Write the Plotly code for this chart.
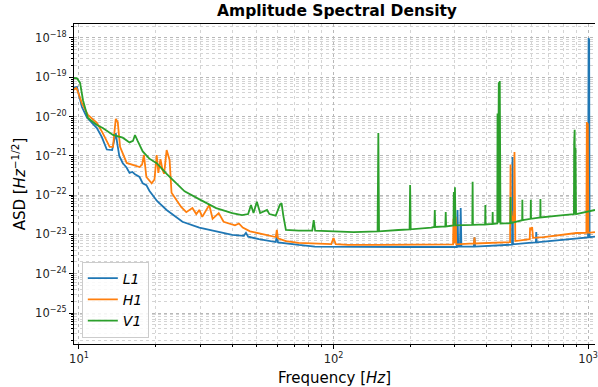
import numpy as np
import plotly.graph_objects as go

# ---------------- data ----------------
l1_freq = [9.56, 9.82, 10.27, 10.75, 11.76, 12.3, 12.86, 13.5, 13.75, 13.95, 14.15, 14.4,
           14.85, 15.4, 15.8, 16.2, 16.6, 17.3, 17.8, 18.4, 18.9, 20.3, 22.1, 25.5, 29.7,
           34.6, 40, 44.4, 45.3, 46.2, 50.9, 59.3, 59.9, 60.5, 62.7, 73, 84.5, 114, 150,
           200, 305, 307, 309, 314, 316, 318, 356, 358, 360, 496, 503, 505, 507, 600, 624,
           626, 628, 670, 900, 1000, 1005, 1010, 1014, 1065]
l1_asd = [5.4e-20, 5.7e-20, 1.75e-20, 9.5e-21, 5.1e-21, 3.0e-21, 1.45e-21, 1.4e-21, 2.5e-21,
          3.8e-21, 2.0e-21, 1.0e-21, 6.6e-22, 5.0e-22, 3.7e-22, 3.9e-22, 3.4e-22, 2.9e-22,
          2.0e-22, 1.8e-22, 1.3e-22, 7.0e-23, 4.2e-23, 2.1e-23, 1.5e-23, 1.2e-23, 9.7e-24,
          9.2e-24, 1.1e-23, 8.8e-24, 7.6e-24, 6.4e-24, 9.5e-24, 6.3e-24, 6.1e-24, 5.4e-24,
          4.9e-24, 4.8e-24, 4.8e-24, 4.8e-24, 4.8e-24, 4.2e-23, 4.9e-24, 4.9e-24, 4.7e-23,
          4.9e-24, 4.9e-24, 8.5e-24, 4.9e-24, 5.4e-24, 5.5e-24, 9.3e-22, 5.6e-24, 6.2e-24,
          6.3e-24, 1.15e-23, 6.3e-24, 6.6e-24, 8.1e-24, 8.4e-24, 1.0e-18, 9.0e-19, 8.5e-24,
          8.8e-24]

h1_freq = [9.56, 9.75, 9.82, 10.27, 10.84, 11.76, 12.4, 13.2, 13.6, 13.95, 14.2, 14.5, 15.4,
           17.3, 17.7, 18.0, 18.4, 19.3, 19.8, 20.2, 20.5, 20.9, 21.3, 21.6, 22.1, 22.7,
           23.1, 25.2, 26.4, 27.9, 28.9, 29.7, 30.5, 32.5, 33.5, 35.4, 37, 41, 42.5, 44, 47,
           55, 59.3, 59.9, 60.5, 65, 73, 98, 100, 102, 114, 150, 200, 295, 296, 297.5, 299,
           300.5, 302, 303.5, 356, 358, 360, 480, 494, 496, 497.5, 500, 503, 506, 509, 512,
           514, 516, 518, 590, 592, 597, 603, 608, 670, 900, 985, 989, 994, 998, 1003, 1065]
h1_asd = [4.8e-20, 5.4e-20, 5.0e-20, 2.2e-20, 1.1e-20, 6.9e-21, 3.8e-21, 1.7e-21, 1.7e-21,
          8.7e-21, 7.3e-21, 1.7e-21, 6.6e-22, 5.2e-22, 6.0e-22, 1.05e-21, 2.9e-22, 2.0e-22,
          2.5e-22, 1.05e-21, 3.7e-22, 8.3e-22, 4.4e-22, 3.5e-22, 1.4e-21, 7.9e-22, 1.15e-22,
          5.0e-23, 3.7e-23, 4.7e-23, 3.3e-23, 4.2e-23, 2.8e-23, 5.6e-23, 2.5e-23, 3.5e-23,
          2.1e-23, 1.7e-23, 1.9e-23, 1.5e-23, 1.2e-23, 9.5e-24, 8.6e-24, 1.3e-23, 8.0e-24,
          6.8e-24, 6.1e-24, 5.7e-24, 8.1e-24, 5.7e-24, 5.4e-24, 5.4e-24, 5.4e-24, 5.6e-24,
          2.5e-23, 6.0e-24, 3.0e-23, 6.0e-24, 2.8e-23, 5.6e-24, 5.9e-24, 8.5e-24, 5.9e-24,
          6.2e-24, 6.4e-24, 6.0e-22, 2.5e-23, 4.0e-23, 2.2e-23, 3.0e-23, 2.0e-23, 2.8e-23,
          1.26e-21, 2.5e-23, 6.8e-24, 7.6e-24, 1.5e-23, 1.3e-23, 1.55e-23, 8.2e-24, 8.6e-24,
          1.09e-23, 1.1e-23, 7.3e-21, 1.1e-23, 6.8e-21, 1.1e-23, 1.15e-23]

v1_freq = [9.56, 9.82, 10.1, 10.37, 10.84, 11.76, 12.4, 13.6, 14.85, 15.8, 16.3, 16.6, 17.0,
           17.8, 18.9, 20.2, 22.2, 26.0, 30, 34.6, 40, 43.7, 46.2, 47.4, 48.5, 50, 51.5,
           54.8, 56, 59.3, 61.5, 62.5, 63.5, 65, 73, 82.5, 83.6, 84.7, 120, 149, 150, 151,
           180, 199, 200, 201, 242, 249, 250, 251, 275, 276, 277, 296, 297, 299, 300, 301.5,
           351, 352, 353, 394, 395, 396, 421, 422, 423, 440, 441, 443, 446, 448, 450, 453,
           495, 496, 497, 551, 552, 553, 595, 596, 597, 649, 650, 651, 800, 880, 882, 886,
           890, 893, 897, 1000, 1065]
v1_asd = [9.6e-20, 9.4e-20, 7.2e-20, 2.6e-20, 9.2e-21, 6.1e-21, 5.1e-21, 3.4e-21, 2.9e-21,
          2.2e-21, 2.4e-21, 3.4e-21, 2.4e-21, 1.3e-21, 8.5e-22, 6.5e-22, 3.4e-22, 1.25e-22,
          7.6e-23, 4.7e-23, 3.5e-23, 3.1e-23, 3.3e-23, 5.6e-23, 3.5e-23, 6.8e-23, 3.5e-23,
          4.2e-23, 3.3e-23, 3.0e-23, 5.6e-23, 6.3e-23, 3.0e-23, 1.3e-23, 1.25e-23, 1.25e-23,
          2.3e-23, 1.25e-23, 1.15e-23, 1.2e-23, 3.8e-21, 1.2e-23, 1.3e-23, 1.35e-23, 1.8e-22,
          1.35e-23, 1.5e-23, 1.55e-23, 4.2e-23, 1.55e-23, 1.6e-23, 3.7e-23, 1.6e-23, 1.7e-23,
          1.2e-22, 1.7e-23, 1.6e-22, 1.7e-23, 1.75e-23, 2.2e-22, 1.75e-23, 1.8e-23, 5.6e-23,
          1.8e-23, 1.85e-23, 3.7e-23, 1.85e-23, 1.9e-23, 1.2e-20, 2.0e-23, 7.5e-20, 2.0e-23,
          8.0e-20, 1.9e-23, 1.95e-23, 9.0e-23, 1.95e-23, 2.3e-23, 7.6e-23, 2.3e-23, 2.5e-23,
          7.6e-23, 2.5e-23, 2.7e-23, 8.0e-23, 2.7e-23, 3.1e-23, 3.3e-23, 2.2e-21, 4.6e-21,
          3.3e-23, 1.6e-21, 3.3e-23, 3.8e-23, 4.2e-23]

series = [("<i>L1</i>", l1_freq, l1_asd, "#1f77b4"),
          ("<i>H1</i>", h1_freq, h1_asd, "#ff7f0e"),
          ("<i>V1</i>", v1_freq, v1_asd, "#2ca02c")]

x_ticks = [10, 100, 1000]
x_ticktext = ["10<sup>1</sup>", "10<sup>2</sup>", "10<sup>3</sup>"]
y_ticks = [1e-25, 1e-24, 1e-23, 1e-22, 1e-21, 1e-20, 1e-19, 1e-18]
y_ticktext = ["10<sup>−25</sup>", "10<sup>−24</sup>", "10<sup>−23</sup>", "10<sup>−22</sup>",
              "10<sup>−21</sup>", "10<sup>−20</sup>", "10<sup>−19</sup>", "10<sup>−18</sup>"]

x_range = [9.56, 1065]
y_range = [1.63e-26, 2.27e-18]

# ---------------- figure ----------------
fig = go.Figure()
for name, f, a, c in series:
    fig.add_trace(go.Scatter(x=f, y=a, mode="lines", name=name,
                             line=dict(color=c, width=1.8)))

grid_major = "#b8b8b8"
grid_minor = "#d4d4d4"
axis_common = dict(
    type="log",
    showline=True, linecolor="black", linewidth=1,
    ticks="outside", ticklen=4, tickwidth=1, tickcolor="black",
    tickfont=dict(size=11.5, family="DejaVu Sans", color="#222"),
    ticklabeloverflow="allow",
    showgrid=True, gridcolor=grid_major, griddash="dot", gridwidth=1,
    minor=dict(ticks="outside", ticklen=2, tickcolor="black", dtick="D1",
               showgrid=True, gridcolor=grid_minor, griddash="dot", gridwidth=1),
    zeroline=False,
)

fig.update_layout(
    width=598, height=387,
    margin=dict(l=74, r=0, t=24, b=43),
    plot_bgcolor="white", paper_bgcolor="white",
    font=dict(family="DejaVu Sans", color="black"),
    title=dict(text="<b>Amplitude Spectral Density</b>", x=337 / 598, xanchor="center",
               y=1 - 11 / 387, yanchor="middle", font=dict(size=15.5)),
    xaxis=dict(axis_common, range=[np.log10(x_range[0]), np.log10(x_range[1])], mirror=True,
               tickmode="array", tickvals=x_ticks, ticktext=x_ticktext,
               title=dict(text="Frequency [<i>Hz</i>]", font=dict(size=15), standoff=7)),
    yaxis=dict(axis_common, range=[np.log10(y_range[0]), np.log10(y_range[1])],
               tickmode="array", tickvals=y_ticks, ticktext=y_ticktext,
               title=dict(text="ASD [<i>Hz</i><sup>−1/2</sup>]", font=dict(size=15), standoff=5)),
    legend=dict(x=0.015, y=0.02, xanchor="left", yanchor="bottom",
                bgcolor="rgba(255,255,255,0.85)", bordercolor="#cccccc", borderwidth=1,
                font=dict(size=14), itemwidth=30, tracegroupgap=0),
    showlegend=True,
)

fig.write_html("out.html")
